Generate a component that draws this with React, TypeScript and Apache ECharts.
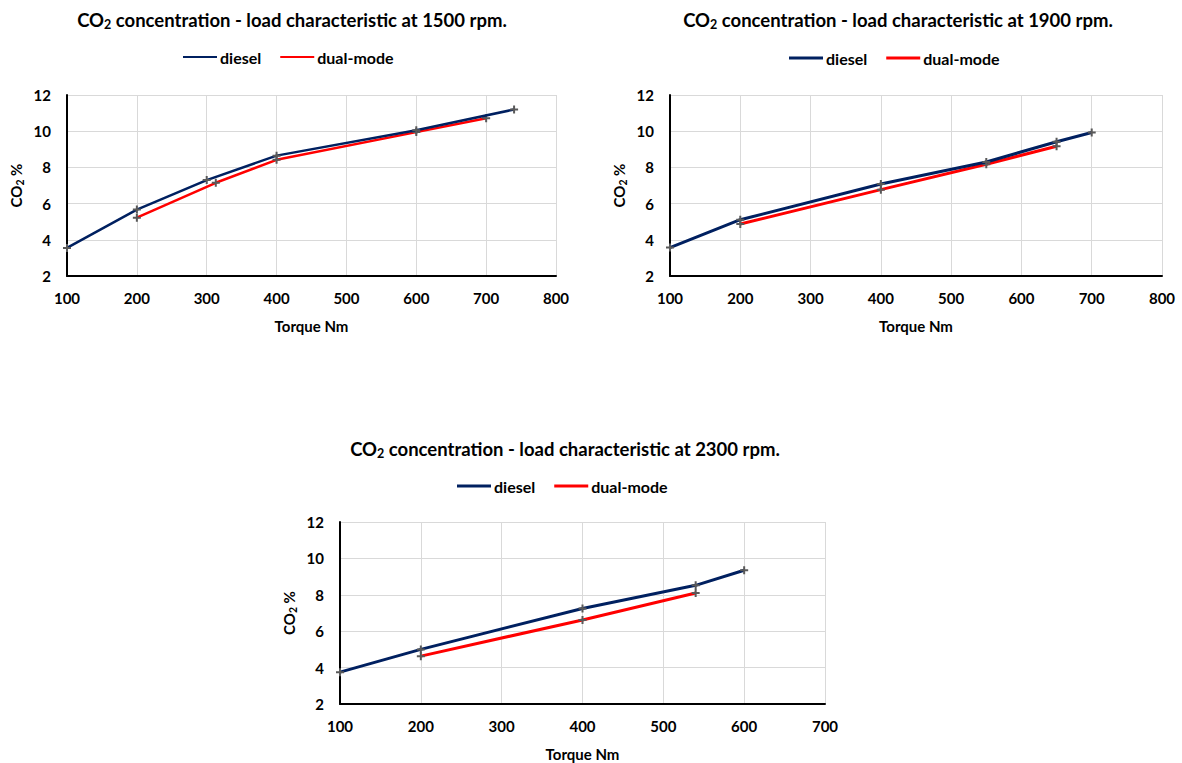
import React, { useEffect, useRef } from "react";
import * as echarts from "echarts";

// Chart 1: 1500 rpm
const rpm1500DieselX = [100, 200, 300, 400, 600, 740];
const rpm1500DieselY = [3.55, 5.67, 7.3, 8.65, 10.05, 11.2];
const rpm1500DualX = [200, 313, 400, 600, 700];
const rpm1500DualY = [5.22, 7.15, 8.42, 9.95, 10.72];

// Chart 2: 1900 rpm
const rpm1900DieselX = [100, 200, 400, 550, 650, 700];
const rpm1900DieselY = [3.57, 5.11, 7.08, 8.3, 9.42, 9.93];
const rpm1900DualX = [200, 400, 550, 650];
const rpm1900DualY = [4.87, 6.77, 8.17, 9.17];

// Chart 3: 2300 rpm
const rpm2300DieselX = [100, 200, 400, 540, 600];
const rpm2300DieselY = [3.75, 5.0, 7.25, 8.52, 9.35];
const rpm2300DualX = [200, 400, 540];
const rpm2300DualY = [4.63, 6.62, 8.1];

const titles = [
  "concentration - load characteristic at 1500 rpm.",
  "concentration - load characteristic at 1900 rpm.",
  "concentration - load characteristic at 2300 rpm.",
];
const seriesNames = ["diesel", "dual-mode"];
const xMaxes = [800, 800, 700];
const yTicks = { min: 2, max: 12, interval: 2 };
const xInterval = 100;

const BLUE = "#002060";
const RED = "#FF0000";
const FONT = "Lato";
const PLUS = "path://M3,0H5V3H8V5H5V8H3V5H0V3H3Z";

const zip = (xs: number[], ys: number[]) => xs.map((x, i) => [x, ys[i]]);

export default function App() {
  const ref = useRef<HTMLDivElement>(null);
  useEffect(() => {
    if (!ref.current) return;
    const chart = echarts.init(ref.current, null, { renderer: "svg" });

    const grids = [
      { left: 67, top: 95, width: 489, height: 181 },
      { left: 670, top: 95, width: 492, height: 181 },
      { left: 340, top: 522, width: 485, height: 182 },
    ];
    const titlePos = [
      { x: 287, y: 4 },
      { x: 893, y: 4 },
      { x: 560, y: 433 },
    ];
    const legendPos = [
      { x: 178, y: 44 },
      { x: 784, y: 45 },
      { x: 452, y: 473 },
    ];
    const lineWidths = [2.5, 3, 3];
    const data = [
      [zip(rpm1500DieselX, rpm1500DieselY), zip(rpm1500DualX, rpm1500DualY)],
      [zip(rpm1900DieselX, rpm1900DieselY), zip(rpm1900DualX, rpm1900DualY)],
      [zip(rpm2300DieselX, rpm2300DieselY), zip(rpm2300DualX, rpm2300DualY)],
    ];

    const axisLabel = { color: "#000", fontFamily: FONT, fontWeight: "bold" as const, fontSize: 15 };

    const option: any = {
      animation: false,
      title: titles.map((t, i) => ({
        text: "{a|CO}{s|2}{a| " + t + "}",
        left: titlePos[i].x,
        top: titlePos[i].y,
        textAlign: "center",
        textStyle: {
          rich: {
            a: { fontFamily: FONT, fontSize: 18.5, fontWeight: "bold", color: "#000" },
            s: { fontFamily: FONT, fontSize: 12.5, fontWeight: "bold", color: "#000", padding: [9, 0, 0, 0] },
          },
        },
      })),
      legend: legendPos.map((p, i) => ({
        left: p.x,
        top: p.y,
        icon: "rect",
        itemWidth: 34,
        itemHeight: i === 0 ? 2 : 3,
        itemGap: 19,
        textStyle: { fontFamily: FONT, fontWeight: "bold", fontSize: 16, color: "#000", padding: [0, 0, 0, -2] },
        data: [
          { name: seriesNames[0], itemStyle: { color: BLUE } },
          { name: seriesNames[1], itemStyle: { color: RED } },
        ],
      })),
      grid: grids,
      xAxis: grids.map((_, i) => ({
        type: "value",
        gridIndex: i,
        min: 100,
        max: xMaxes[i],
        interval: xInterval,
        name: "Torque Nm",
        nameLocation: "middle",
        nameGap: 42,
        nameTextStyle: { color: "#000", fontFamily: FONT, fontWeight: "bold", fontSize: 15 },
        axisLine: { show: true, lineStyle: { color: "#000", width: 2 } },
        axisTick: { show: false },
        axisLabel: { ...axisLabel, margin: 14 },
        splitLine: { show: true, lineStyle: { color: "#d9d9d9", width: 1 } },
      })),
      yAxis: grids.map((_, i) => ({
        type: "value",
        gridIndex: i,
        min: yTicks.min,
        max: yTicks.max,
        interval: yTicks.interval,
        name: "{a|CO}{s|2}{a| %}",
        nameLocation: "middle",
        nameRotate: 90,
        nameGap: 42,
        nameTextStyle: {
          rich: {
            a: { fontFamily: FONT, fontSize: 15, fontWeight: "bold", color: "#000" },
            s: { fontFamily: FONT, fontSize: 10.5, fontWeight: "bold", color: "#000", padding: [7, 0, 0, 0] },
          },
        },
        axisLine: { show: true, lineStyle: { color: "#000", width: 2 } },
        axisTick: { show: false },
        axisLabel: { ...axisLabel, margin: 16 },
        splitLine: { show: true, lineStyle: { color: "#d9d9d9", width: 1 } },
      })),
      series: data.flatMap((pair, i) =>
        pair.map((d, j) => ({
          type: "line",
          name: seriesNames[j],
          xAxisIndex: i,
          yAxisIndex: i,
          data: d,
          symbol: PLUS,
          symbolSize: 8,
          showAllSymbol: true,
          itemStyle: { color: "#595959" },
          lineStyle: { color: j === 0 ? BLUE : RED, width: lineWidths[i] },
          z: j === 0 ? 3 : 2,
        }))
      ),
    };
    chart.setOption(option);
    return () => chart.dispose();
  }, []);
  return (
    <div
      ref={ref}
      style={{ position: "absolute", left: 0, top: 0, width: 1182, height: 763, background: "#fff" }}
    />
  );
}
